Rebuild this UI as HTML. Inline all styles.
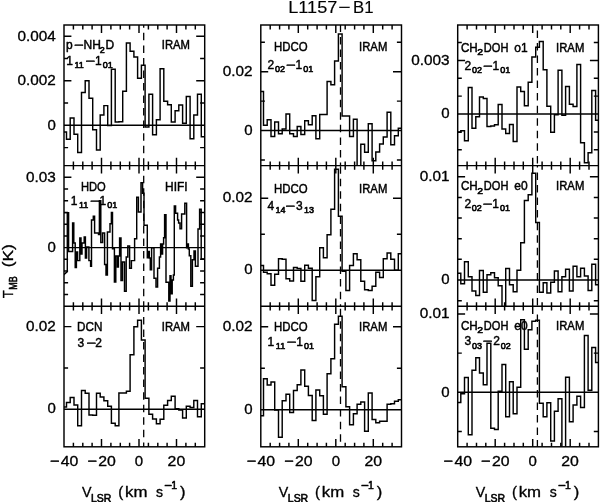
<!DOCTYPE html>
<html lang="en"><head><meta charset="utf-8"><title>L1157-B1</title>
<style>html,body{margin:0;padding:0;background:#fff}svg{display:block}</style>
</head><body>
<svg width="600" height="502" viewBox="0 0 600 502">
<rect width="600" height="502" fill="#fff"/>
<defs>
<clipPath id="c00"><rect x="64.0" y="25.0" width="140.7" height="140.6"/></clipPath>
<clipPath id="c01"><rect x="260.8" y="25.0" width="140.7" height="140.6"/></clipPath>
<clipPath id="c02"><rect x="457.7" y="25.0" width="140.7" height="140.6"/></clipPath>
<clipPath id="c10"><rect x="64.0" y="165.6" width="140.7" height="140.7"/></clipPath>
<clipPath id="c11"><rect x="260.8" y="165.6" width="140.7" height="140.7"/></clipPath>
<clipPath id="c12"><rect x="457.7" y="165.6" width="140.7" height="140.7"/></clipPath>
<clipPath id="c20"><rect x="64.0" y="306.3" width="140.7" height="140.5"/></clipPath>
<clipPath id="c21"><rect x="260.8" y="306.3" width="140.7" height="140.5"/></clipPath>
<clipPath id="c22"><rect x="457.7" y="306.3" width="140.7" height="140.5"/></clipPath>
</defs>
<g fill="none" stroke="#000" stroke-width="1.45" stroke-linecap="butt" stroke-linejoin="miter">
<rect x="64.0" y="25.0" width="140.7" height="421.8"/>
<path d="M64.0 165.6H204.7M64.0 306.3H204.7M73.4 25.0v4.4M73.4 446.8v-4.0M73.4 161.5v8.2M73.4 302.2v8.2M82.8 25.0v4.4M82.8 446.8v-4.0M82.8 161.5v8.2M82.8 302.2v8.2M92.1 25.0v4.4M92.1 446.8v-4.0M92.1 161.5v8.2M92.1 302.2v8.2M101.5 25.0v8.1M101.5 446.8v-7.7M101.5 157.8v15.6M101.5 298.5v15.6M110.9 25.0v4.4M110.9 446.8v-4.0M110.9 161.5v8.2M110.9 302.2v8.2M120.3 25.0v4.4M120.3 446.8v-4.0M120.3 161.5v8.2M120.3 302.2v8.2M129.6 25.0v4.4M129.6 446.8v-4.0M129.6 161.5v8.2M129.6 302.2v8.2M139.0 25.0v8.1M139.0 446.8v-7.7M139.0 157.8v15.6M139.0 298.5v15.6M148.4 25.0v4.4M148.4 446.8v-4.0M148.4 161.5v8.2M148.4 302.2v8.2M157.8 25.0v4.4M157.8 446.8v-4.0M157.8 161.5v8.2M157.8 302.2v8.2M167.1 25.0v4.4M167.1 446.8v-4.0M167.1 161.5v8.2M167.1 302.2v8.2M176.5 25.0v8.1M176.5 446.8v-7.7M176.5 157.8v15.6M176.5 298.5v15.6M185.9 25.0v4.4M185.9 446.8v-4.0M185.9 161.5v8.2M185.9 302.2v8.2M195.3 25.0v4.4M195.3 446.8v-4.0M195.3 161.5v8.2M195.3 302.2v8.2M64.0 147.6h4.1M204.7 147.6h-4.6M64.0 103.0h4.1M204.7 103.0h-4.6M64.0 80.8h7.4M204.7 80.8h-8.5M64.0 58.5h4.1M204.7 58.5h-4.6M64.0 36.3h7.4M204.7 36.3h-8.5M64.0 125.3H204.7M64.0 294.5h4.1M204.7 294.5h-4.6M64.0 282.7h4.1M204.7 282.7h-4.6M64.0 271.0h4.1M204.7 271.0h-4.6M64.0 259.3h4.1M204.7 259.3h-4.6M64.0 235.9h4.1M204.7 235.9h-4.6M64.0 224.2h4.1M204.7 224.2h-4.6M64.0 212.5h4.1M204.7 212.5h-4.6M64.0 200.7h4.1M204.7 200.7h-4.6M64.0 189.0h4.1M204.7 189.0h-4.6M64.0 177.3h7.4M204.7 177.3h-8.5M64.0 247.6H204.7M64.0 367.9h4.1M204.7 367.9h-4.6M64.0 326.6h7.4M204.7 326.6h-8.5M64.0 409.2H204.7"/>
<path d="M143.7 158.3V165.6M143.7 145.8V153.2M143.7 133.2V140.7M143.7 120.6V128.1M143.7 108.1V115.6M143.7 95.5V103.0M143.7 83.0V90.5M143.7 70.5V78.0M143.7 57.9V65.4M143.7 45.4V52.9M143.7 32.8V40.3M143.7 25.0V27.8M143.7 301.2V306.3M143.7 288.7V296.2M143.7 276.1V283.6M143.7 263.6V271.1M143.7 251.0V258.5M143.7 238.5V246.0M143.7 225.9V233.4M143.7 213.4V220.9M143.7 200.8V208.3M143.7 188.3V195.8M143.7 175.7V183.2M143.7 165.6V170.7M143.7 442.4V446.8M143.7 429.8V437.3M143.7 417.3V424.8M143.7 404.7V412.2M143.7 392.2V399.7M143.7 379.6V387.1M143.7 367.1V374.6M143.7 354.5V362.0M143.7 342.0V349.5M143.7 329.4V336.9M143.7 316.9V324.4M143.7 306.3V311.8" stroke-width="1.3"/>
<rect x="260.8" y="25.0" width="140.7" height="421.8"/>
<path d="M260.8 165.6H401.5M260.8 306.3H401.5M270.2 25.0v4.4M270.2 446.8v-4.0M270.2 161.5v8.2M270.2 302.2v8.2M279.6 25.0v4.4M279.6 446.8v-4.0M279.6 161.5v8.2M279.6 302.2v8.2M288.9 25.0v4.4M288.9 446.8v-4.0M288.9 161.5v8.2M288.9 302.2v8.2M298.3 25.0v8.1M298.3 446.8v-7.7M298.3 157.8v15.6M298.3 298.5v15.6M307.7 25.0v4.4M307.7 446.8v-4.0M307.7 161.5v8.2M307.7 302.2v8.2M317.1 25.0v4.4M317.1 446.8v-4.0M317.1 161.5v8.2M317.1 302.2v8.2M326.4 25.0v4.4M326.4 446.8v-4.0M326.4 161.5v8.2M326.4 302.2v8.2M335.8 25.0v8.1M335.8 446.8v-7.7M335.8 157.8v15.6M335.8 298.5v15.6M345.2 25.0v4.4M345.2 446.8v-4.0M345.2 161.5v8.2M345.2 302.2v8.2M354.6 25.0v4.4M354.6 446.8v-4.0M354.6 161.5v8.2M354.6 302.2v8.2M363.9 25.0v4.4M363.9 446.8v-4.0M363.9 161.5v8.2M363.9 302.2v8.2M373.3 25.0v8.1M373.3 446.8v-7.7M373.3 157.8v15.6M373.3 298.5v15.6M382.7 25.0v4.4M382.7 446.8v-4.0M382.7 161.5v8.2M382.7 302.2v8.2M392.1 25.0v4.4M392.1 446.8v-4.0M392.1 161.5v8.2M392.1 302.2v8.2M260.8 159.9h4.1M401.5 159.9h-4.6M260.8 101.1h4.1M401.5 101.1h-4.6M260.8 71.7h7.4M401.5 71.7h-8.5M260.8 42.3h4.1M401.5 42.3h-4.6M260.8 130.5H401.5M260.8 234.2h4.1M401.5 234.2h-4.6M260.8 198.2h7.4M401.5 198.2h-8.5M260.8 270.2H401.5M260.8 368.2h4.1M401.5 368.2h-4.6M260.8 326.7h7.4M401.5 326.7h-8.5M260.8 409.7H401.5"/>
<path d="M340.5 162.5V165.6M340.5 149.9V157.4M340.5 137.4V144.9M340.5 124.8V132.3M340.5 112.3V119.8M340.5 99.7V107.2M340.5 87.2V94.7M340.5 74.6V82.1M340.5 62.1V69.6M340.5 49.5V57.0M340.5 37.0V44.5M340.5 25.0V31.9M340.5 304.2V306.3M340.5 291.7V299.2M340.5 279.1V286.6M340.5 266.6V274.1M340.5 254.0V261.5M340.5 241.5V249.0M340.5 228.9V236.4M340.5 216.4V223.9M340.5 203.8V211.3M340.5 191.3V198.8M340.5 178.7V186.2M340.5 166.2V173.7M340.5 434.2V441.8M340.5 421.7V429.2M340.5 409.1V416.6M340.5 396.6V404.1M340.5 384.0V391.5M340.5 371.5V379.0M340.5 358.9V366.4M340.5 346.4V353.9M340.5 333.8V341.3M340.5 321.3V328.8M340.5 308.7V316.2" stroke-width="1.3"/>
<rect x="457.7" y="25.0" width="140.7" height="421.8"/>
<path d="M457.7 165.6H598.4M457.7 306.3H598.4M467.1 25.0v4.4M467.1 446.8v-4.0M467.1 161.5v8.2M467.1 302.2v8.2M476.5 25.0v4.4M476.5 446.8v-4.0M476.5 161.5v8.2M476.5 302.2v8.2M485.8 25.0v4.4M485.8 446.8v-4.0M485.8 161.5v8.2M485.8 302.2v8.2M495.2 25.0v8.1M495.2 446.8v-7.7M495.2 157.8v15.6M495.2 298.5v15.6M504.6 25.0v4.4M504.6 446.8v-4.0M504.6 161.5v8.2M504.6 302.2v8.2M514.0 25.0v4.4M514.0 446.8v-4.0M514.0 161.5v8.2M514.0 302.2v8.2M523.3 25.0v4.4M523.3 446.8v-4.0M523.3 161.5v8.2M523.3 302.2v8.2M532.7 25.0v8.1M532.7 446.8v-7.7M532.7 157.8v15.6M532.7 298.5v15.6M542.1 25.0v4.4M542.1 446.8v-4.0M542.1 161.5v8.2M542.1 302.2v8.2M551.5 25.0v4.4M551.5 446.8v-4.0M551.5 161.5v8.2M551.5 302.2v8.2M560.8 25.0v4.4M560.8 446.8v-4.0M560.8 161.5v8.2M560.8 302.2v8.2M570.2 25.0v8.1M570.2 446.8v-7.7M570.2 157.8v15.6M570.2 298.5v15.6M579.6 25.0v4.4M579.6 446.8v-4.0M579.6 161.5v8.2M579.6 302.2v8.2M589.0 25.0v4.4M589.0 446.8v-4.0M589.0 161.5v8.2M589.0 302.2v8.2M457.7 149.7h4.1M598.4 149.7h-4.6M457.7 131.9h4.1M598.4 131.9h-4.6M457.7 96.1h4.1M598.4 96.1h-4.6M457.7 78.3h4.1M598.4 78.3h-4.6M457.7 60.4h7.4M598.4 60.4h-8.5M457.7 42.5h4.1M598.4 42.5h-4.6M457.7 114.0H598.4M457.7 300.7h4.1M598.4 300.7h-4.6M457.7 259.3h4.1M598.4 259.3h-4.6M457.7 238.7h4.1M598.4 238.7h-4.6M457.7 218.0h4.1M598.4 218.0h-4.6M457.7 197.4h4.1M598.4 197.4h-4.6M457.7 176.7h7.4M598.4 176.7h-8.5M457.7 280.0H598.4M457.7 431.5h4.1M598.4 431.5h-4.6M457.7 353.1h4.1M598.4 353.1h-4.6M457.7 313.9h7.4M598.4 313.9h-8.5M457.7 392.3H598.4"/>
<path d="M537.4 155.9V163.4M537.4 143.3V150.8M537.4 130.8V138.3M537.4 118.2V125.7M537.4 105.7V113.2M537.4 93.1V100.6M537.4 80.6V88.1M537.4 68.0V75.5M537.4 55.5V63.0M537.4 43.0V50.5M537.4 30.4V37.9M537.4 25.0V25.4M537.4 298.0V305.5M537.4 285.4V292.9M537.4 272.9V280.4M537.4 260.3V267.8M537.4 247.8V255.3M537.4 235.2V242.7M537.4 222.7V230.2M537.4 210.1V217.6M537.4 197.6V205.1M537.4 185.0V192.5M537.4 172.5V180.0M537.4 165.6V167.4M537.4 440.1V446.8M537.4 427.6V435.1M537.4 415.0V422.5M537.4 402.4V409.9M537.4 389.9V397.4M537.4 377.3V384.8M537.4 364.8V372.3M537.4 352.2V359.7M537.4 339.7V347.2M537.4 327.1V334.6M537.4 314.6V322.1" stroke-width="1.3"/>
<path clip-path="url(#c00)" d="M64.0 132.0H66.5V139.2H70.2V118.0H74.0V134.2H77.7V152.5H81.5V92.5H85.2V80.8H89.0V98.2H92.7V129.7H96.5V150.0H100.2V115.0H103.9V105.6H107.7V125.6H111.4V69.2H115.2V122.0H118.9V121.8H122.7V91.3H126.4V43.0H130.1V51.3H133.9V57.0H137.6V78.3H141.4V65.3H145.1V127.0H148.9V94.3H152.6V134.7H156.4V119.7H160.1V68.7H163.8V101.3H167.6V104.8H171.3V122.0H175.1V110.8H178.8V105.0H182.6V123.3H186.3V96.5H190.1V138.8H193.8V115.0H197.5V94.2H201.3V136.7H204.7"/>
<path clip-path="url(#c20)" d="M64.0 407.0H66.5V402.5H70.2V397.5H74.0V405.0H77.7V425.8H81.5V390.5H85.2V393.3H89.0V415.0H92.7V415.3H96.5V393.3H100.2V397.0H103.9V400.8H107.7V406.3H111.4V423.3H115.2V425.8H118.9V393.0H122.7V393.0H126.4V391.3H130.1V354.7H133.9V326.7H137.6V320.3H141.4V340.0H145.1V398.3H148.9V414.2H152.6V419.0H156.4V423.7H160.1V419.2H163.8V405.3H167.6V400.5H171.3V396.3H175.1V408.7H178.8V410.0H182.6V418.0H186.3V406.3H190.1V407.5H193.8V400.5H197.5V416.7H201.3V403.8H204.7"/>
<path clip-path="url(#c01)" d="M260.8 91.5H263.5V125.3H267.2V119.8H271.0V136.5H274.7V122.0H278.5V133.7H282.2V129.0H286.0V114.0H289.7V133.7H293.5V136.5H297.2V126.5H300.9V134.5H304.7V120.7H308.4V124.8H312.2V115.7H315.9V138.7H319.7V114.5H323.4V114.5H327.1V81.5H330.9V84.8H334.6V61.0H338.4V34.0H342.1V116.0H345.9V116.0H349.6V136.5H353.4V119.3H357.1V175.0H360.8V144.3H364.6V152.3H368.3V123.7H372.1V160.7H375.8V152.0H379.6V144.0H383.3V137.0H387.1V112.3H390.8V144.8H394.5V135.7H398.3V128.2H401.5"/>
<path clip-path="url(#c11)" d="M260.8 265.5H263.5V272.2H267.2V273.8H271.0V285.2H274.7V274.3H278.5V258.8H282.2V259.3H286.0V278.8H289.7V281.0H293.5V267.5H297.2V268.5H300.9V281.3H304.7V265.2H308.4V268.3H312.2V300.5H315.9V276.8H319.7V247.7H323.4V257.7H327.1V234.7H330.9V209.2H334.6V169.2H338.4V216.3H342.1V271.2H345.9V290.4H349.6V265.5H353.4V253.8H357.1V259.7H360.8V281.3H364.6V289.7H368.3V290.5H372.1V286.3H375.8V272.2H379.6V277.5H383.3V258.8H387.1V253.0H390.8V259.3H394.5V270.2H398.3V253.8H401.5"/>
<path clip-path="url(#c21)" d="M260.8 415.8H263.5V378.7H267.2V385.0H271.0V382.0H274.7V410.0H278.5V437.2H282.2V400.8H286.0V394.2H289.7V412.5H293.5V390.5H297.2V384.7H300.9V370.0H304.7V386.2H308.4V395.5H312.2V420.5H315.9V390.0H319.7V395.8H323.4V414.2H327.1V373.8H330.9V358.8H334.6V324.2H338.4V316.3H342.1V386.7H345.9V406.7H349.6V424.7H353.4V413.8H357.1V404.2H360.8V402.0H364.6V431.3H368.3V393.0H372.1V419.5H375.8V422.8H379.6V421.3H383.3V421.2H387.1V404.2H390.8V403.8H394.5V401.2H398.3V399.7H401.5"/>
<path clip-path="url(#c02)" d="M457.7 132.3H460.8V130.7H464.5V140.7H468.3V87.5H472.0V128.2H475.8V116.8H479.5V97.0H483.3V98.5H487.0V126.5H490.8V126.0H494.5V124.8H498.2V104.5H502.0V129.0H505.7V133.5H509.5V124.5H513.2V141.5H517.0V87.0H520.7V91.5H524.4V105.7H528.2V82.3H531.9V57.0H535.7V47.3H539.4V41.5H543.2V69.8H546.9V106.2H550.7V132.3H554.4V114.8H558.1V70.3H561.9V115.3H565.6V86.5H569.4V104.3H573.1V106.5H576.9V64.5H580.6V142.7H584.4V162.7H588.1V152.8H591.8V90.5H595.6V120.3H598.4"/>
<path clip-path="url(#c12)" d="M457.7 273.3H460.8V283.8H464.5V261.8H468.3V276.8H472.0V291.0H475.8V295.5H479.5V270.5H483.3V292.2H487.0V274.7H490.8V272.7H494.5V277.7H498.2V285.8H502.0V312.0H505.7V268.5H509.5V284.7H513.2V291.8H517.0V270.2H520.7V242.7H524.4V200.5H528.2V194.7H531.9V173.3H535.7V222.5H539.4V292.2H543.2V282.7H546.9V293.0H550.7V282.2H554.4V271.0H558.1V291.8H561.9V276.7H565.6V269.3H569.4V291.0H573.1V266.3H576.9V276.7H580.6V268.3H584.4V276.0H588.1V290.5H591.8V264.3H595.6V284.7H598.4"/>
<path clip-path="url(#c22)" d="M457.7 402.5H460.8V393.7H464.5V377.5H468.3V434.7H472.0V370.3H475.8V357.8H479.5V373.0H483.3V384.7H487.0V343.3H490.8V428.3H494.5V429.5H498.2V391.2H502.0V364.5H505.7V416.7H509.5V381.7H513.2V413.8H517.0V387.2H520.7V319.7H524.4V349.2H528.2V329.7H531.9V321.3H535.7V320.2H539.4V403.2H543.2V416.7H546.9V402.8H550.7V441.0H554.4V411.3H558.1V398.8H561.9V452.0H565.6V377.2H569.4V421.7H573.1V405.0H576.9V396.2H580.6V407.5H584.4V335.5H588.1V390.3H591.8V347.5H595.6V362.5H598.4"/>
<path clip-path="url(#c10)" d="M64 212.6H68.6V251.4H72.6V223H73.8V243H75.2V267.5H76.4V252H77.6V260.6H79.8V238H81.0V254H82.0V243H84.2V237H85.4V258H86.6V246.9H88.9V260.6H90.6V266.3H91.5V220H93.3V216.2H94.6V233H98.5V234.6H99.4V200.6H100.8V242.5H102.6V233H104.6V264.5H106V275H107.4V232H110V223.8H111.4V212.5H112.5V248.8H114.4V281.9H115.8V256H117.4V267H118.4V256H119.6V238H121V280.6H122.5V262H124.5V291.3H126.2V257H127.8V246H129.6V268.3H131.4V260.6H134.6V238.8H136.7V197.3H138.4V212H141V182.7H142.6V193.3H144V225.3H147.3V257.7H148.3V251.5H149.3V258H150.3V269.7H151.6V247.7H154V278.3H156V287H157.6V268.3H159.4V257H160.6V244H161.6V254H162.6V244H163.6V237.7H164.6V214.7H166V282.3H168.8V301H170V275.7H171V293.7H172.2V280H173.4V275H174.3V206H175.6V213.3H177.6V220H178.6V223H180V228.7H181.6V214H184.8V203.3H186.6V247.7H187.6V244H188.4V249H189.3V255.7H190.8V286.3H192.4V259.7H194V251H195.4V266.3H198V229H199.6V209.3H201.2V259H204.4M67.3 212.6V271.6L63 275.5" stroke-width="1.45"/>
</g>
<g font-family="'Liberation Sans', Arial, Helvetica, sans-serif" fill="#000" stroke="#000" stroke-width="0.35" stroke-linejoin="round">
<text y="12.8" font-size="17" stroke-width="0.15"><tspan x="288.3" textLength="49.0" lengthAdjust="spacingAndGlyphs">L1157</tspan><tspan x="338.2" textLength="12.4" lengthAdjust="spacingAndGlyphs">−</tspan><tspan x="353.0" textLength="20.5" lengthAdjust="spacingAndGlyphs">B1</tspan></text>
<text x="55.8" y="129.5" font-size="15.0" text-anchor="end">0</text>
<text x="55.8" y="85.0" font-size="15.0" text-anchor="end" textLength="38.3" lengthAdjust="spacingAndGlyphs">0.002</text>
<text x="55.8" y="40.5" font-size="15.0" text-anchor="end" textLength="38.3" lengthAdjust="spacingAndGlyphs">0.004</text>
<text x="55.8" y="251.8" font-size="15.0" text-anchor="end">0</text>
<text x="55.8" y="181.5" font-size="15.0" text-anchor="end" textLength="29.8" lengthAdjust="spacingAndGlyphs">0.03</text>
<text x="55.8" y="413.4" font-size="15.0" text-anchor="end">0</text>
<text x="55.8" y="330.8" font-size="15.0" text-anchor="end" textLength="29.8" lengthAdjust="spacingAndGlyphs">0.02</text>
<text x="252.6" y="134.7" font-size="15.0" text-anchor="end">0</text>
<text x="252.6" y="75.9" font-size="15.0" text-anchor="end" textLength="29.8" lengthAdjust="spacingAndGlyphs">0.02</text>
<text x="252.6" y="274.4" font-size="15.0" text-anchor="end">0</text>
<text x="252.6" y="202.4" font-size="15.0" text-anchor="end" textLength="29.8" lengthAdjust="spacingAndGlyphs">0.02</text>
<text x="252.6" y="413.9" font-size="15.0" text-anchor="end">0</text>
<text x="252.6" y="330.9" font-size="15.0" text-anchor="end" textLength="29.8" lengthAdjust="spacingAndGlyphs">0.02</text>
<text x="449.5" y="118.2" font-size="15.0" text-anchor="end">0</text>
<text x="449.5" y="64.6" font-size="15.0" text-anchor="end" textLength="38.3" lengthAdjust="spacingAndGlyphs">0.003</text>
<text x="449.5" y="284.2" font-size="15.0" text-anchor="end">0</text>
<text x="449.5" y="180.9" font-size="15.0" text-anchor="end" textLength="29.8" lengthAdjust="spacingAndGlyphs">0.01</text>
<text x="449.5" y="396.5" font-size="15.0" text-anchor="end">0</text>
<text x="449.5" y="318.1" font-size="15.0" text-anchor="end" textLength="29.8" lengthAdjust="spacingAndGlyphs">0.01</text>
<text y="466.0" font-size="15.0"><tspan x="49.9" textLength="9.6" lengthAdjust="spacingAndGlyphs">−</tspan><tspan x="60.7" textLength="17.6" lengthAdjust="spacingAndGlyphs">40</tspan></text>
<text y="466.0" font-size="15.0"><tspan x="87.4" textLength="9.6" lengthAdjust="spacingAndGlyphs">−</tspan><tspan x="98.2" textLength="17.6" lengthAdjust="spacingAndGlyphs">20</tspan></text>
<text x="139.0" y="466.0" font-size="15.0" text-anchor="middle">0</text>
<text x="167.6" y="466.0" font-size="15.0" textLength="17.6" lengthAdjust="spacingAndGlyphs">20</text>
<text x="82.0" y="497.0" font-size="15.0" textLength="9.5" lengthAdjust="spacingAndGlyphs">V</text>
<text x="91.0" y="501.5" font-size="11.5" textLength="20.4" lengthAdjust="spacingAndGlyphs" stroke-width="0.6">LSR</text>
<text x="118.2" y="497.0" font-size="15.0">(</text>
<text x="125.0" y="497.0" font-size="15.0" textLength="22.4" lengthAdjust="spacingAndGlyphs">km</text>
<text x="156.0" y="497.0" font-size="15.0" textLength="7.0" lengthAdjust="spacingAndGlyphs">s</text>
<text y="488.6" font-size="10.5" stroke-width="0.55"><tspan x="164.0" textLength="7.8" lengthAdjust="spacingAndGlyphs">−</tspan><tspan x="171.3">1</tspan></text>
<text x="180.0" y="497.0" font-size="15.0" textLength="5.5" lengthAdjust="spacingAndGlyphs">)</text>
<text y="466.0" font-size="15.0"><tspan x="246.7" textLength="9.6" lengthAdjust="spacingAndGlyphs">−</tspan><tspan x="257.5" textLength="17.6" lengthAdjust="spacingAndGlyphs">40</tspan></text>
<text y="466.0" font-size="15.0"><tspan x="284.2" textLength="9.6" lengthAdjust="spacingAndGlyphs">−</tspan><tspan x="295.0" textLength="17.6" lengthAdjust="spacingAndGlyphs">20</tspan></text>
<text x="335.8" y="466.0" font-size="15.0" text-anchor="middle">0</text>
<text x="364.4" y="466.0" font-size="15.0" textLength="17.6" lengthAdjust="spacingAndGlyphs">20</text>
<text x="278.8" y="497.0" font-size="15.0" textLength="9.5" lengthAdjust="spacingAndGlyphs">V</text>
<text x="287.8" y="501.5" font-size="11.5" textLength="20.4" lengthAdjust="spacingAndGlyphs" stroke-width="0.6">LSR</text>
<text x="315.0" y="497.0" font-size="15.0">(</text>
<text x="321.8" y="497.0" font-size="15.0" textLength="22.4" lengthAdjust="spacingAndGlyphs">km</text>
<text x="352.8" y="497.0" font-size="15.0" textLength="7.0" lengthAdjust="spacingAndGlyphs">s</text>
<text y="488.6" font-size="10.5" stroke-width="0.55"><tspan x="360.8" textLength="7.8" lengthAdjust="spacingAndGlyphs">−</tspan><tspan x="368.1">1</tspan></text>
<text x="376.8" y="497.0" font-size="15.0" textLength="5.5" lengthAdjust="spacingAndGlyphs">)</text>
<text y="466.0" font-size="15.0"><tspan x="443.6" textLength="9.6" lengthAdjust="spacingAndGlyphs">−</tspan><tspan x="454.4" textLength="17.6" lengthAdjust="spacingAndGlyphs">40</tspan></text>
<text y="466.0" font-size="15.0"><tspan x="481.1" textLength="9.6" lengthAdjust="spacingAndGlyphs">−</tspan><tspan x="491.9" textLength="17.6" lengthAdjust="spacingAndGlyphs">20</tspan></text>
<text x="532.7" y="466.0" font-size="15.0" text-anchor="middle">0</text>
<text x="561.3" y="466.0" font-size="15.0" textLength="17.6" lengthAdjust="spacingAndGlyphs">20</text>
<text x="475.7" y="497.0" font-size="15.0" textLength="9.5" lengthAdjust="spacingAndGlyphs">V</text>
<text x="484.7" y="501.5" font-size="11.5" textLength="20.4" lengthAdjust="spacingAndGlyphs" stroke-width="0.6">LSR</text>
<text x="511.9" y="497.0" font-size="15.0">(</text>
<text x="518.7" y="497.0" font-size="15.0" textLength="22.4" lengthAdjust="spacingAndGlyphs">km</text>
<text x="549.7" y="497.0" font-size="15.0" textLength="7.0" lengthAdjust="spacingAndGlyphs">s</text>
<text y="488.6" font-size="10.5" stroke-width="0.55"><tspan x="557.7" textLength="7.8" lengthAdjust="spacingAndGlyphs">−</tspan><tspan x="565.0">1</tspan></text>
<text x="573.7" y="497.0" font-size="15.0" textLength="5.5" lengthAdjust="spacingAndGlyphs">)</text>
<g transform="translate(12.8,298.2) rotate(-90)">
<text x="0.0" y="0.0" font-size="15.0" textLength="8.0" lengthAdjust="spacingAndGlyphs">T</text>
<text x="8.4" y="4.4" font-size="11.5" textLength="13.4" lengthAdjust="spacingAndGlyphs" stroke-width="0.6">MB</text>
<text x="31.0" y="0.0" font-size="15.0" textLength="23.1" lengthAdjust="spacingAndGlyphs">(K)</text>
</g>
<text font-size="12.0" stroke-width="0.45"><tspan x="66.0" y="49.4">p</tspan><tspan x="73.7" y="49.4" textLength="9.6" lengthAdjust="spacingAndGlyphs">−</tspan><tspan x="83.6" y="49.4">NH</tspan><tspan x="99.8" y="52.7" font-size="9.0" stroke-width="0.6">2</tspan><tspan x="105.6" y="49.4">D</tspan></text>
<text font-size="12.0" stroke-width="0.45"><tspan x="66.2" y="65.0">1</tspan><tspan x="74.5" y="68.3" font-size="9.0" stroke-width="0.6">11</tspan><tspan x="85.2" y="65.0" textLength="9.6" lengthAdjust="spacingAndGlyphs">−</tspan><tspan x="94.9" y="65.0">1</tspan><tspan x="102.7" y="68.3" font-size="9.0" stroke-width="0.6">01</tspan></text>
<text font-size="12.0" stroke-width="0.45"><tspan x="161.8" y="48.6" textLength="28.2" lengthAdjust="spacingAndGlyphs">IRAM</tspan></text>
<text font-size="12.0" stroke-width="0.45"><tspan x="80.9" y="190.7" textLength="24.8" lengthAdjust="spacingAndGlyphs">HDO</tspan></text>
<text font-size="12.0" stroke-width="0.45"><tspan x="70.7" y="204.5">1</tspan><tspan x="79.0" y="207.8" font-size="9.0" stroke-width="0.6">11</tspan><tspan x="89.7" y="204.5" textLength="9.6" lengthAdjust="spacingAndGlyphs">−</tspan><tspan x="99.4" y="204.5">1</tspan><tspan x="107.2" y="207.8" font-size="9.0" stroke-width="0.6">01</tspan></text>
<text font-size="12.0" stroke-width="0.45"><tspan x="165.1" y="190.7" textLength="22.5" lengthAdjust="spacingAndGlyphs">HIFI</tspan></text>
<text font-size="12.0" stroke-width="0.45"><tspan x="77.1" y="330.8" textLength="25.3" lengthAdjust="spacingAndGlyphs">DCN</tspan></text>
<text font-size="12.0" stroke-width="0.45"><tspan x="77.6" y="346.8">3</tspan><tspan x="86.3" y="346.8" textLength="9.6" lengthAdjust="spacingAndGlyphs">−</tspan><tspan x="95.2" y="346.8">2</tspan></text>
<text font-size="12.0" stroke-width="0.45"><tspan x="161.8" y="330.8" textLength="28.2" lengthAdjust="spacingAndGlyphs">IRAM</tspan></text>
<text font-size="12.0" stroke-width="0.45"><tspan x="274.0" y="50.8" textLength="33.5" lengthAdjust="spacingAndGlyphs">HDCO</tspan></text>
<text font-size="12.0" stroke-width="0.45"><tspan x="267.6" y="68.6">2</tspan><tspan x="274.9" y="71.9" font-size="9.0" stroke-width="0.6">02</tspan><tspan x="285.7" y="68.6" textLength="9.6" lengthAdjust="spacingAndGlyphs">−</tspan><tspan x="295.4" y="68.6">1</tspan><tspan x="303.2" y="71.9" font-size="9.0" stroke-width="0.6">01</tspan></text>
<text font-size="12.0" stroke-width="0.45"><tspan x="359.1" y="50.8" textLength="28.2" lengthAdjust="spacingAndGlyphs">IRAM</tspan></text>
<text font-size="12.0" stroke-width="0.45"><tspan x="274.0" y="193.0" textLength="33.5" lengthAdjust="spacingAndGlyphs">HDCO</tspan></text>
<text font-size="12.0" stroke-width="0.45"><tspan x="267.4" y="209.6">4</tspan><tspan x="275.4" y="212.9" font-size="9.0" stroke-width="0.6">14</tspan><tspan x="285.3" y="209.6" textLength="9.6" lengthAdjust="spacingAndGlyphs">−</tspan><tspan x="295.9" y="209.6">3</tspan><tspan x="304.1" y="212.9" font-size="9.0" stroke-width="0.6">13</tspan></text>
<text font-size="12.0" stroke-width="0.45"><tspan x="359.1" y="193.0" textLength="28.2" lengthAdjust="spacingAndGlyphs">IRAM</tspan></text>
<text font-size="12.0" stroke-width="0.45"><tspan x="274.0" y="330.5" textLength="33.5" lengthAdjust="spacingAndGlyphs">HDCO</tspan></text>
<text font-size="12.0" stroke-width="0.45"><tspan x="267.5" y="345.9">1</tspan><tspan x="275.8" y="349.2" font-size="9.0" stroke-width="0.6">11</tspan><tspan x="286.5" y="345.9" textLength="9.6" lengthAdjust="spacingAndGlyphs">−</tspan><tspan x="296.2" y="345.9">1</tspan><tspan x="304.0" y="349.2" font-size="9.0" stroke-width="0.6">01</tspan></text>
<text font-size="12.0" stroke-width="0.45"><tspan x="359.1" y="330.5" textLength="28.2" lengthAdjust="spacingAndGlyphs">IRAM</tspan></text>
<text font-size="12.0" stroke-width="0.45"><tspan x="460.9" y="52.0" textLength="16.8" lengthAdjust="spacingAndGlyphs">CH</tspan><tspan x="477.3" y="55.3" font-size="9.0" stroke-width="0.6" textLength="5.8" lengthAdjust="spacingAndGlyphs">2</tspan><tspan x="483.8" y="52.0" textLength="24.6" lengthAdjust="spacingAndGlyphs">DOH</tspan><tspan x="514.3" y="52.0">o1</tspan></text>
<text font-size="12.0" stroke-width="0.45"><tspan x="464.6" y="69.9">2</tspan><tspan x="471.9" y="73.2" font-size="9.0" stroke-width="0.6">02</tspan><tspan x="482.7" y="69.9" textLength="9.6" lengthAdjust="spacingAndGlyphs">−</tspan><tspan x="492.4" y="69.9">1</tspan><tspan x="500.2" y="73.2" font-size="9.0" stroke-width="0.6">01</tspan></text>
<text font-size="12.0" stroke-width="0.45"><tspan x="556.1" y="51.5" textLength="28.2" lengthAdjust="spacingAndGlyphs">IRAM</tspan></text>
<text font-size="12.0" stroke-width="0.45"><tspan x="460.9" y="190.3" textLength="16.8" lengthAdjust="spacingAndGlyphs">CH</tspan><tspan x="477.3" y="193.6" font-size="9.0" stroke-width="0.6" textLength="5.8" lengthAdjust="spacingAndGlyphs">2</tspan><tspan x="483.8" y="190.3" textLength="24.6" lengthAdjust="spacingAndGlyphs">DOH</tspan><tspan x="514.3" y="190.3">e0</tspan></text>
<text font-size="12.0" stroke-width="0.45"><tspan x="464.5" y="207.8">2</tspan><tspan x="471.8" y="211.1" font-size="9.0" stroke-width="0.6">02</tspan><tspan x="482.6" y="207.8" textLength="9.6" lengthAdjust="spacingAndGlyphs">−</tspan><tspan x="492.3" y="207.8">1</tspan><tspan x="500.1" y="211.1" font-size="9.0" stroke-width="0.6">01</tspan></text>
<text font-size="12.0" stroke-width="0.45"><tspan x="556.1" y="190.3" textLength="28.2" lengthAdjust="spacingAndGlyphs">IRAM</tspan></text>
<text font-size="12.0" stroke-width="0.45"><tspan x="460.9" y="329.5" textLength="16.8" lengthAdjust="spacingAndGlyphs">CH</tspan><tspan x="477.3" y="332.8" font-size="9.0" stroke-width="0.6" textLength="5.8" lengthAdjust="spacingAndGlyphs">2</tspan><tspan x="483.8" y="329.5" textLength="24.6" lengthAdjust="spacingAndGlyphs">DOH</tspan><tspan x="514.3" y="329.5">e0</tspan></text>
<text font-size="12.0" stroke-width="0.45"><tspan x="464.5" y="345.2">3</tspan><tspan x="472.0" y="348.5" font-size="9.0" stroke-width="0.6">03</tspan><tspan x="482.6" y="345.2" textLength="9.6" lengthAdjust="spacingAndGlyphs">−</tspan><tspan x="493.2" y="345.2">2</tspan><tspan x="500.7" y="348.5" font-size="9.0" stroke-width="0.6">02</tspan></text>
<text font-size="12.0" stroke-width="0.45"><tspan x="556.1" y="329.9" textLength="28.2" lengthAdjust="spacingAndGlyphs">IRAM</tspan></text>
</g>
</svg>
</body></html>
